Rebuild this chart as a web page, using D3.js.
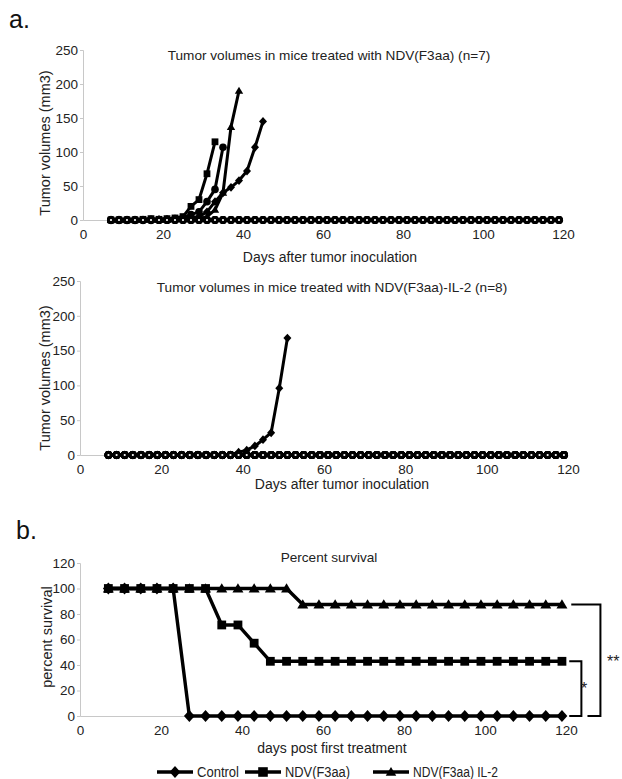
<!DOCTYPE html>
<html>
<head>
<meta charset="utf-8">
<script src="https://cdn.jsdelivr.net/npm/d3@7/dist/d3.min.js"></script>
<style>
  body { margin: 0; background: #fff; }
  svg { display: block; font-family: "Liberation Sans", Arial, sans-serif; }
</style>
</head>
<body>
<svg id="fig" width="622" height="779"></svg>
<script>

// panel a: NDV(F3aa), n=7 (measurement days every 2 days)
var tumorDaysA = [7,9,11,13,15,17,19,21,23,25,27,29,31,33,35,37,39,41,43,45,47,49,51,53,55,57,59,61,63,65,67,69,71,73,75,77,79,81,83,85,87,89,91,93,95,97,99,101,103,105,107,109,111,113,115,117,119]
var mouseSquareA   = [0,0,0,0,1,2,1,2,3,5,20,30,68,115]
var mouseCircleA   = [0,0,0,0,0,1,0,1,2,3,8,12,27,45,107]
var mouseTriangleA = [0,0,0,0,0,0,0,0,1,1,1,2,5,15,40,137,190]
var mouseDiamondA  = [0,0,0,0,0,0,1,1,1,2,3,5,12,27,40,48,58,72,107,145]
// the 3 surviving mice stay at 0 for the whole follow-up
var survivorA = [0,0,0,0,0,0,0,0,0,0,0,0,0,0,0,0,0,0,0,0,0,0,0,0,0,0,0,0,0,0,0,0,0,0,0,0,0,0,0,0,0,0,0,0,0,0,0,0,0,0,0,0,0,0,0,0,0]
var survivorsA = 3

// panel a2: NDV(F3aa)-IL-2, n=8
var tumorDaysB = [7,9,11,13,15,17,19,21,23,25,27,29,31,33,35,37,39,41,43,45,47,49,51,53,55,57,59,61,63,65,67,69,71,73,75,77,79,81,83,85,87,89,91,93,95,97,99,101,103,105,107,109,111,113,115,117,119]
var mouseDiamondB = [0,0,0,0,0,0,0,0,0,0,0,0,0,0,0,0,4,7,13,22,32,96,168]
var survivorB = [0,0,0,0,0,0,0,0,0,0,0,0,0,0,0,0,0,0,0,0,0,0,0,0,0,0,0,0,0,0,0,0,0,0,0,0,0,0,0,0,0,0,0,0,0,0,0,0,0,0,0,0,0,0,0,0,0]
var survivorsB = 7

// panel b: percent survival
var survDays = [7,11,15,19,23,27,31,35,39,43,47,51,55,59,63,67,71,75,79,83,87,91,95,99,103,107,111,115,119]
var survControl = [100,100,100,100,100,0,0,0,0,0,0,0,0,0,0,0,0,0,0,0,0,0,0,0,0,0,0,0,0]
var survNDV = [100,100,100,100,100,100,100,71.4,71.4,57.1,42.9,42.9,42.9,42.9,42.9,42.9,42.9,42.9,42.9,42.9,42.9,42.9,42.9,42.9,42.9,42.9,42.9,42.9,42.9]
var survIL2 = [100,100,100,100,100,100,100,100,100,100,100,100,87.5,87.5,87.5,87.5,87.5,87.5,87.5,87.5,87.5,87.5,87.5,87.5,87.5,87.5,87.5,87.5,87.5]

var legendNames = ["Control", "NDV(F3aa)", "NDV(F3aa) IL-2"]
var xTicks = [0,20,40,60,80,100,120]
var tumorTicks = [0,50,100,150,200,250]
var survTicks = [0,20,40,60,80,100,120]

var svg = d3.select("#fig")

// marker shapes
function shape(kind, r) {
    if (kind == "diamond") return "M0," + (-r * 1.1) + "L" + r + ",0L0," + (r * 1.1) + "L" + (-r) + ",0Z"
    if (kind == "square") return "M" + (-r) + "," + (-r) + "h" + (2 * r) + "v" + (2 * r) + "h" + (-2 * r) + "Z"
    if (kind == "triangle") return "M0," + (-r * 1.05) + "L" + (r * 1.1) + "," + (r * 0.8) + "L" + (-r * 1.1) + "," + (r * 0.8) + "Z"
    return d3.symbol(d3.symbolCircle, Math.PI * r * r)()
}

function series(g, x, y, days, values, kind, r, w) {

    var pts = values.map(function(v, i) { return { d: days[i], v: v } })

    g.append("path")
        .datum(pts)
        .attr("fill", "none")
        .attr("stroke", "#000")
        .attr("stroke-width", w || 3)
        .attr("stroke-linejoin", "round")
        .attr("d", d3.line().x(p => x(p.d)).y(p => y(p.v)))

    var m = g.selectAll(null).data(pts).enter().append("path")
        .attr("transform", p => "translate(" + x(p.d) + "," + y(p.v) + ")")

    if (kind == "open") {
        m.attr("d", shape("circle", 2.5))
            .attr("fill", "#fff")
            .attr("stroke", "#000")
            .attr("stroke-width", 2.8)
    } else {
        m.attr("d", shape(kind, r)).attr("fill", "#000")
    }

}

function axes(g, x, y, yTicks) {

    var ax = g.append("g")
        .attr("transform", "translate(0," + y.range()[0] + ")")
        .call(d3.axisBottom(x).tickValues(xTicks).tickSize(0).tickPadding(9))

    var ay = g.append("g")
        .attr("transform", "translate(" + x.range()[0] + ",0)")
        .call(d3.axisLeft(y).tickValues(yTicks).tickSize(3).tickPadding(2))

    ;[ax, ay].forEach(function(a) {
        a.select(".domain").attr("stroke", "#c8c8c8").attr("stroke-width", 1)
        a.selectAll(".tick line").attr("stroke", "#c8c8c8")
        a.selectAll("text").attr("font-size", 13.5).attr("fill", "#222")
            .attr("font-family", "Liberation Sans, Arial, sans-serif")
    })

}

function label(txt, x, y, size, rot) {
    var t = svg.append("text")
        .attr("text-anchor", "middle")
        .attr("font-size", size)
        .attr("fill", "#222")
        .text(txt)
    if (rot) t.attr("transform", "translate(" + x + "," + y + ") rotate(-90)")
    else t.attr("x", x).attr("y", y)
    return t
}

// ---------- panel a (top) ----------
svg.append("text").attr("x", 9).attr("y", 28).attr("font-size", 25).attr("fill", "#111").text("a.")

var xA = d3.scaleLinear().domain([0, 120]).range([83, 563])
var yA = d3.scaleLinear().domain([0, 250]).range([220, 50])
var gA = svg.append("g")
axes(gA, xA, yA, tumorTicks)
series(gA, xA, yA, tumorDaysA, mouseDiamondA, "diamond", 4)
series(gA, xA, yA, tumorDaysA, mouseCircleA, "circle", 3.8)
series(gA, xA, yA, tumorDaysA, mouseSquareA, "square", 3.4)
series(gA, xA, yA, tumorDaysA, mouseTriangleA, "triangle", 3.8)
for (var i = 0; i < survivorsA; i++) series(gA, xA, yA, tumorDaysA, survivorA, "open")

label("Tumor volumes in mice treated with NDV(F3aa) (n=7)", 329, 60, 13.6)
label("Days after tumor inoculation", 330, 262, 14)
label("Tumor volumes (mm3)", 50, 143, 14.5, true)

// ---------- panel a (bottom) ----------
var xB = d3.scaleLinear().domain([0, 120]).range([80, 568])
var yB = d3.scaleLinear().domain([0, 250]).range([455, 281])
var gB = svg.append("g")
axes(gB, xB, yB, tumorTicks)
series(gB, xB, yB, tumorDaysB, mouseDiamondB, "diamond", 4)
for (var j = 0; j < survivorsB; j++) series(gB, xB, yB, tumorDaysB, survivorB, "open")

label("Tumor volumes in mice treated with NDV(F3aa)-IL-2 (n=8)", 332, 292, 13.6)
label("Days after tumor inoculation", 342, 489, 14)
label("Tumor volumes (mm3)", 50, 378, 14.5, true)

// ---------- panel b ----------
svg.append("text").attr("x", 16).attr("y", 539).attr("font-size", 25).attr("fill", "#111").text("b.")

var xS = d3.scaleLinear().domain([0, 120]).range([80, 566])
var yS = d3.scaleLinear().domain([0, 120]).range([716, 563])
var gS = svg.append("g")
axes(gS, xS, yS, survTicks)
series(gS, xS, yS, survDays, survIL2, "triangle", 5, 3.4)
series(gS, xS, yS, survDays, survNDV, "square", 4.4, 3.4)
series(gS, xS, yS, survDays, survControl, "diamond", 5.4, 3.4)

label("Percent survival", 329, 562, 13.6)
label("days post first treatment", 332, 753, 14)
label("percent survival", 52, 637, 14.5, true)

// significance brackets
var br = svg.append("g").attr("fill", "none").attr("stroke", "#000").attr("stroke-width", 2)
br.append("path").attr("d", "M" + xS(121.3) + "," + yS(87.5) + "H" + xS(128.5) + "V" + yS(0) + "H" + xS(125.3))
br.append("path").attr("d", "M" + xS(120.8) + "," + yS(42.9) + "H" + xS(123.8) + "V" + yS(0) + "H" + xS(120.8))
svg.append("text").attr("x", 607).attr("y", 667).attr("font-size", 16).attr("fill", "#222").text("**")
svg.append("text").attr("x", 581).attr("y", 694).attr("font-size", 16).attr("fill", "#222").text("*")

// legend
var legKinds = ["diamond", "square", "triangle"]
var legX = [157, 245, 373]
var legW = [42, 65, 85]
var legend = svg.append("g")
legendNames.forEach(function(n, k) {
    var lg = legend.append("g").attr("transform", "translate(" + legX[k] + ",772)")
    lg.append("line").attr("x1", 0).attr("x2", 36).attr("stroke", "#000").attr("stroke-width", 3.4)
    lg.append("path").attr("transform", "translate(18,0)").attr("d", shape(legKinds[k], k == 0 ? 5.4 : 4.8)).attr("fill", "#000")
    lg.append("text").attr("x", 40).attr("y", 5).attr("font-size", 14).attr("fill", "#222")
        .attr("textLength", legW[k]).attr("lengthAdjust", "spacingAndGlyphs").text(n)
})

</script>
</body>
</html>
